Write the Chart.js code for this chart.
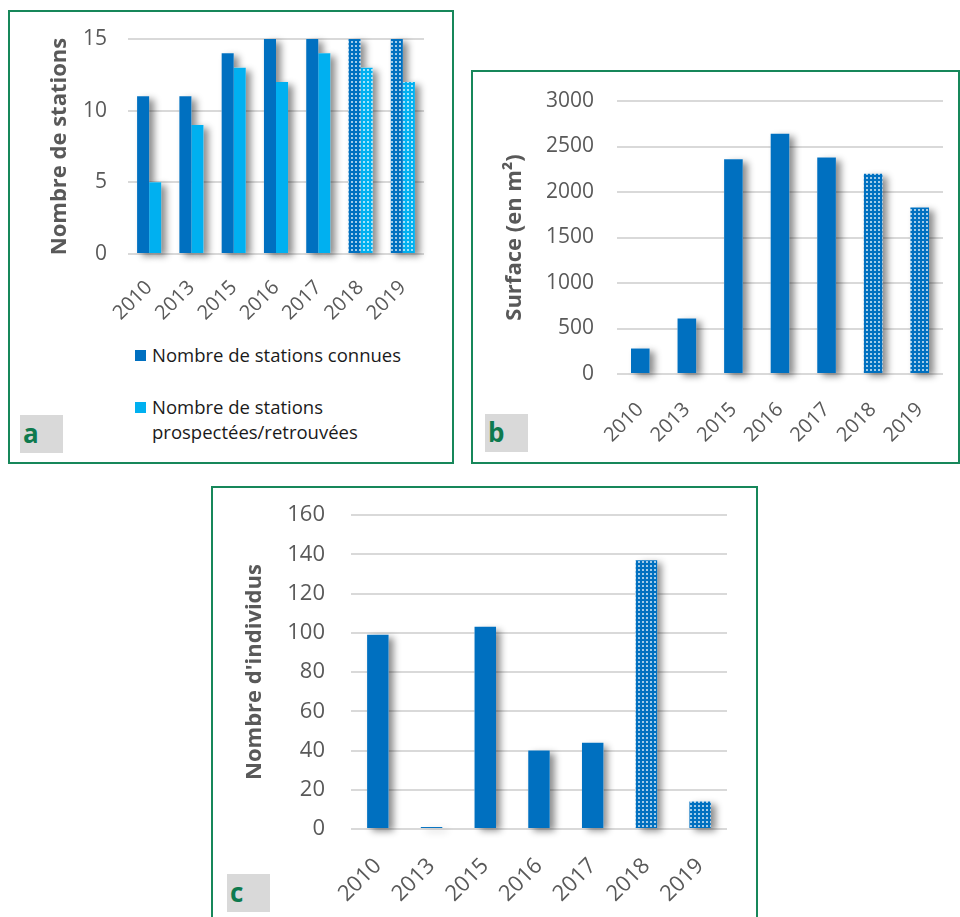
<!DOCTYPE html>
<html>
<head>
<meta charset="utf-8">
<script src="https://cdn.jsdelivr.net/npm/chart.js@4"></script>
<style>
    body { margin: 0; background: #ffffff; font-family: "Open Sans", sans-serif; }
    .box { position: absolute; border: 2px solid #17875a; box-sizing: border-box; background: #ffffff; }
    canvas { position: absolute; }
    .tag { position: absolute; width: 43px; height: 38px; background: #d9d9d9; color: #0e7a4e;
           font-weight: bold; font-size: 26px; line-height: 36px; padding-left: 3px; box-sizing: border-box; }
    .legend { position: absolute; font-size: 18.5px; line-height: 25px; color: #1a1a1a; }
    .legend .sq { position: absolute; left: -17px; top: 8px; width: 11px; height: 11px; }
</style>
</head>
<body>

<div class="box" style="left:8px; top:10px; width:446px; height:454px;"></div>
<div class="box" style="left:471px; top:70px; width:489px; height:394px;"></div>
<div class="box" style="left:211px; top:486px; width:547px; height:440px;"></div>

<canvas id="stationsChart" width="441" height="320" style="left:10px; top:12px;"></canvas>
<canvas id="surfaceChart" width="483" height="372" style="left:473px; top:72px;"></canvas>
<canvas id="individusChart" width="542" height="429" style="left:213px; top:488px;"></canvas>

<div class="legend" style="left:152px; top:342px;"><span class="sq" style="background:#0070c0;"></span>Nombre de stations connues</div>
<div class="legend" style="left:152px; top:394px;"><span class="sq" style="background:#00b0f0;"></span>Nombre de stations<br>prospectées/retrouvées</div>

<div class="tag" style="left:20px; top:415px;">a</div>
<div class="tag" style="left:485px; top:414px;">b</div>
<div class="tag" style="left:227px; top:874px;">c</div>

<script>
const years = ["2010", "2013", "2015", "2016", "2017", "2018", "2019"];
const dottedYears = ["2018", "2019"];

const stationsConnues = [11, 11, 14, 15, 15, 15, 15];
const stationsRetrouvees = [5, 9, 13, 12, 14, 13, 12];
const stationsTicks = [0, 5, 10, 15];

const surface = [280, 610, 2360, 2640, 2380, 2200, 1830];
const surfaceTicks = [0, 500, 1000, 1500, 2000, 2500, 3000];

const individus = [99, 1, 103, 40, 44, 137, 14];
const individusTicks = [0, 20, 40, 60, 80, 100, 120, 140, 160];

const DARK = "#0070c0";
const LIGHT = "#00b0f0";

Chart.defaults.font.family = "'Open Sans', sans-serif";
Chart.defaults.color = "#595959";

// grey drop shadow behind every bar, drawn before the bars themselves
const barShadow = {
    id: "barShadow",
    beforeDatasetsDraw(chart) {
        const ctx = chart.ctx;
        ctx.save();
        ctx.shadowColor = "rgba(0, 0, 0, 0.45)";
        ctx.shadowBlur = 7;
        ctx.shadowOffsetX = 5;
        ctx.shadowOffsetY = 3;
        ctx.fillStyle = "#ffffff";
        chart.getSortedVisibleDatasetMetas().forEach(meta => {
            meta.data.forEach(bar => {
                const p = bar.getProps(["x", "y", "width", "base"], true);
                ctx.fillRect(p.x - p.width / 2, p.y, p.width, p.base - p.y);
            });
        });
        ctx.restore();
    }
};

function dotPattern(color) {
    const c = document.createElement("canvas");
    c.width = 4;
    c.height = 4;
    const g = c.getContext("2d");
    g.fillStyle = color;
    g.fillRect(0, 0, 4, 4);
    g.fillStyle = "rgba(255, 255, 255, 0.85)";
    g.beginPath();
    g.arc(2, 2, 1.0, 0, Math.PI * 2);
    g.fill();
    return g.createPattern(c, "repeat");
}

function barColors(color) {
    const dotted = dotPattern(color);
    return years.map(y => dottedYears.includes(y) ? dotted : color);
}

const Charts = {

    init() {
        this.createStationsChart();
        this.createSurfaceChart();
        this.createIndividusChart();
    },

    options(cfg) {
        return {
            responsive: false,
            animation: false,
            layout: {
                padding: { left: cfg.padLeft, top: cfg.padTop, right: cfg.padRight, bottom: 0 }
            },
            plugins: {
                legend: { display: false },
                tooltip: { enabled: false }
            },
            scales: {
                x: {
                    grid: { display: false },
                    border: { display: false },
                    ticks: {
                        autoSkip: false,
                        maxRotation: 45,
                        minRotation: 45,
                        padding: cfg.xPad,
                        font: { size: cfg.xSize },
                        color: "#595959"
                    },
                    afterFit: s => { s.height = cfg.xHeight; }
                },
                y: {
                    min: cfg.ticks[0],
                    max: cfg.ticks[cfg.ticks.length - 1],
                    afterBuildTicks: s => { s.ticks = cfg.ticks.map(v => ({ value: v })); },
                    // invisible tick marks keep the labels away from the plot
                    grid: {
                        color: "#d9d9d9",
                        lineWidth: 2,
                        drawTicks: true,
                        tickLength: cfg.yPad,
                        tickColor: "rgba(0, 0, 0, 0)"
                    },
                    border: { display: false },
                    ticks: {
                        padding: 0,
                        font: { size: cfg.ySize },
                        color: "#595959",
                        callback: v => String(v)
                    },
                    title: {
                        display: true,
                        text: cfg.title,
                        color: "#595959",
                        font: { size: 22, weight: "bold" }
                    },
                    afterFit: s => { s.width = cfg.yWidth; }
                }
            }
        };
    },

    createStationsChart() {
        const ctx = document.getElementById("stationsChart");
        if (!ctx) return;
        new Chart(ctx, {
            type: "bar",
            data: {
                labels: years,
                datasets: [{
                    label: "Nombre de stations connues",
                    data: stationsConnues,
                    backgroundColor: barColors(DARK),
                    barPercentage: 1,
                    categoryPercentage: 0.57
                }, {
                    label: "Nombre de stations prospectées/retrouvées",
                    data: stationsRetrouvees,
                    backgroundColor: barColors(LIGHT),
                    barPercentage: 1,
                    categoryPercentage: 0.57
                }]
            },
            options: this.options({
                padLeft: 33, padTop: 27, padRight: 27,
                yWidth: 85, xHeight: 78,
                xPad: 14, yPad: 21, xSize: 20, ySize: 21,
                ticks: stationsTicks,
                title: "Nombre de stations"
            }),
            plugins: [barShadow]
        });
    },

    createSurfaceChart() {
        const ctx = document.getElementById("surfaceChart");
        if (!ctx) return;
        new Chart(ctx, {
            type: "bar",
            data: {
                labels: years,
                datasets: [{
                    label: "Surface (en m²)",
                    data: surface,
                    backgroundColor: barColors(DARK),
                    barPercentage: 1,
                    categoryPercentage: 0.4
                }]
            },
            options: this.options({
                padLeft: 25, padTop: 29, padRight: 13,
                yWidth: 119, xHeight: 70,
                xPad: 16, yPad: 23, xSize: 20, ySize: 21,
                ticks: surfaceTicks,
                title: "Surface (en m²)"
            }),
            plugins: [barShadow]
        });
    },

    createIndividusChart() {
        const ctx = document.getElementById("individusChart");
        if (!ctx) return;
        new Chart(ctx, {
            type: "bar",
            data: {
                labels: years,
                datasets: [{
                    label: "Nombre d'individus",
                    data: individus,
                    backgroundColor: barColors(DARK),
                    barPercentage: 1,
                    categoryPercentage: 0.4
                }]
            },
            options: this.options({
                padLeft: 25, padTop: 27, padRight: 28,
                yWidth: 113, xHeight: 88,
                xPad: 16, yPad: 26, xSize: 22, ySize: 22,
                ticks: individusTicks,
                title: "Nombre d'individus"
            }),
            plugins: [barShadow]
        });
    }

};

Charts.init();
</script>
</body>
</html>
